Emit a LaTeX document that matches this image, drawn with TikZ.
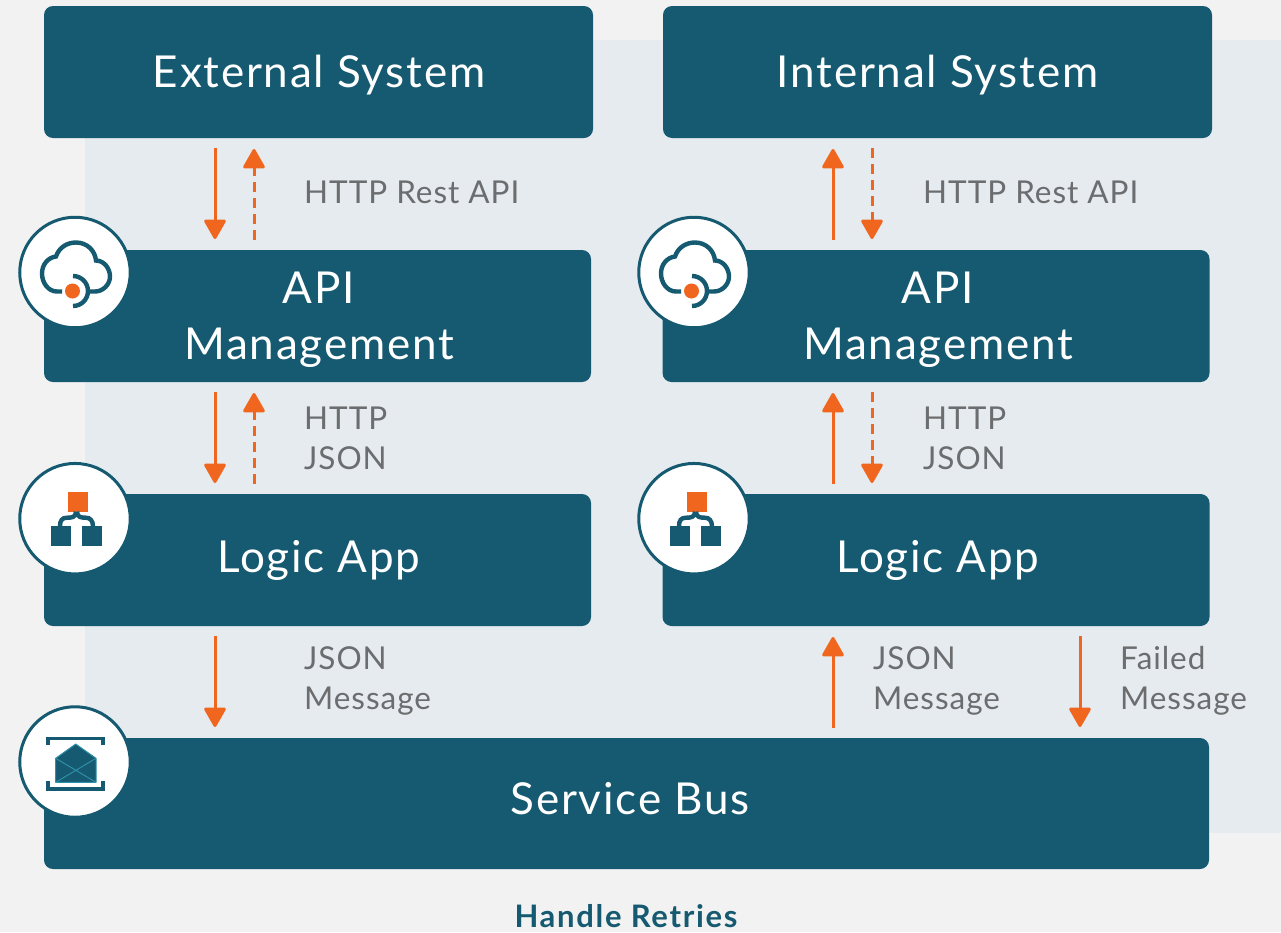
\documentclass[tikz,border=0pt]{standalone}
\usepackage{fontspec}
\setmainfont{Lato}
\usetikzlibrary{arrows.meta,calc}
\definecolor{teal}{HTML}{155A70}
\definecolor{flow}{HTML}{F0661E}
\definecolor{pagebg}{HTML}{F2F2F2}
\definecolor{panel}{HTML}{E5EBEF}
\definecolor{lab}{HTML}{6B6D6F}
\definecolor{envline}{HTML}{2E8FA8}
\tikzset{
 box/.style={fill=teal,rounded corners=9pt,inner sep=0pt,outer sep=0pt},
 boxtext/.style={text=white,inner sep=0pt,anchor=base,align=center,font=\fontsize{44}{56}\selectfont\addfontfeatures{LetterSpace=4}},
 badge/.style={circle,fill=white,draw=teal,line width=3pt,minimum size=110.5pt,inner sep=0pt},
 flowsolid/.style={draw=flow,line width=3pt,-{Triangle[length=21pt,width=23pt,round]},shorten <=10pt,shorten >=11pt},
 flowdash/.style={flowsolid,dash pattern=on 10pt off 6pt},
 lbl/.style={text=lab,font=\fontsize{31.5}{40}\selectfont\addfontfeatures{LetterSpace=3},align=left,anchor=base west,inner sep=0pt},
}
\begin{document}
\begin{tikzpicture}[x=1pt,y=-1pt]
\useasboundingbox (0,0) rectangle (1281,932);
\fill[pagebg] (0,0) rectangle (1281,932);
\fill[panel] (85,40) rectangle (1281,833);
% boxes
\node[box,minimum width=549pt,minimum height=132pt] (ext) at (318.5,72) {};
\node[box,minimum width=549pt,minimum height=132pt] (int) at (937.5,72) {};
\node[box,minimum width=547pt,minimum height=132pt] (apil) at (317.5,316) {};
\node[box,minimum width=547pt,minimum height=132pt] (apir) at (936,316) {};
\node[box,minimum width=547pt,minimum height=132pt] (logl) at (317.5,560) {};
\node[box,minimum width=547pt,minimum height=132pt] (logr) at (936,560) {};
\node[box,minimum width=1165pt,minimum height=131pt] (bus) at (626.5,803.5) {};
\node[boxtext] (extt) at (319,87) {External System};
\node[boxtext] (intt) at (937.5,87) {Internal System};
\node[boxtext] (apilt) at (319,359) {API\\Management};
\node[boxtext] (apirt) at (938,359) {API\\Management};
\node[boxtext] (loglt) at (319,572) {Logic App};
\node[boxtext] (logrt) at (938,572) {Logic App};
\node[boxtext] (bust) at (630,814) {Service Bus};
% connector columns
\coordinate (ca) at (215,0);
\coordinate (cb) at (254,0);
\coordinate (cc) at (833,0);
\coordinate (cd) at (872,0);
\coordinate (ce) at (1080,0);
\draw[flowsolid] (ext.south -| ca) -- (apil.north -| ca);
\draw[flowdash] (apil.north -| cb) -- (ext.south -| cb);
\draw[flowsolid] (apil.south -| ca) -- (logl.north -| ca);
\draw[flowdash] (logl.north -| cb) -- (apil.south -| cb);
\draw[flowsolid] (logl.south -| ca) -- (bus.north -| ca);
\draw[flowsolid] (apir.north -| cc) -- (int.south -| cc);
\draw[flowdash] (int.south -| cd) -- (apir.north -| cd);
\draw[flowsolid] (logr.north -| cc) -- (apir.south -| cc);
\draw[flowdash] (apir.south -| cd) -- (logr.north -| cd);
\draw[flowsolid] (bus.north -| cc) -- (logr.south -| cc);
\draw[flowsolid] (logr.south -| ce) -- (bus.north -| ce);
% labels
\node[lbl] (l1) at (304,203) {HTTP Rest API};
\node[lbl] (l2) at (923,203) {HTTP Rest API};
\node[lbl] (l3) at (304,469) {HTTP\\JSON};
\node[lbl] (l4) at (923,469) {HTTP\\JSON};
\node[lbl] (l5) at (304,709) {JSON\\Message};
\node[lbl] (l6) at (873,709) {JSON\\Message};
\node[lbl] (l7) at (1120,709) {Failed\\Message};
\node[text=teal,font=\bfseries\fontsize{31}{36}\selectfont\addfontfeatures{LetterSpace=5.5},inner sep=0pt,anchor=base] (title) at (626,927.5) {Handle Retries};
% cloud badges
\foreach \nm/\cx in {ca1/75,ca2/694}{
 \node[badge] (\nm) at (\cx,272.5) {};
 \begin{scope}[shift={(\cx,272.5)}]
  \draw[teal,line width=4.4pt]
    (-13,19) -- (-18,19) .. controls (-27,19) and (-33,10) .. (-33,1)
    .. controls (-33,-8) and (-27,-15) .. (-19,-16)
    .. controls (-16,-25) and (-8,-30) .. (1,-30)
    .. controls (12,-30) and (20,-22) .. (21,-12)
    .. controls (29,-12) and (35,-4) .. (35,4)
    .. controls (35,12) and (28,19) .. (20,19) -- (12,19);
  \draw[teal,line width=4.4pt] (-2,3.5) arc[start angle=-90,end angle=90,radius=15];
  \fill[flow] (-2.5,18.5) circle (7.5);
 \end{scope}
}
% logic badges
\foreach \nm/\cx in {cb1/75,cb2/694}{
 \node[badge] (\nm) at (\cx,518.7) {};
 \begin{scope}[shift={(\cx,518.7)}]
  \fill[flow] (-7.3,-27) rectangle (12.7,-7);
  \fill[teal] (-24.3,7.3) rectangle (-4.3,27.3);
  \fill[teal] (7.3,7.3) rectangle (27.3,27.3);
  \draw[teal,line width=4.4pt] (1,-7) .. controls (1,-1) and (-4,-1) .. (-8,-1) .. controls (-13,-1) and (-15,2) .. (-15,7.5);
  \draw[teal,line width=4.4pt] (2,-7) .. controls (2,-1) and (7,-1) .. (11,-1) .. controls (15,-1) and (18,2) .. (18,7.5);
 \end{scope}
}
% service bus badge
\node[badge] (cc1) at (75,762) {};
\begin{scope}[shift={(75,762)}]
 \draw[teal,line width=3.5pt] (-27,-17) -- (-27,-23.5) -- (28,-23.5) -- (28,-17);
 \draw[teal,line width=3.5pt] (-27,19) -- (-27,27) -- (28,27) -- (28,19);
 \fill[teal,draw=envline,line width=1pt,line join=round] (-19.3,-3.7) -- (0.7,-18) -- (21,-3.7) -- (21,20.3) -- (-19.3,20.3) -- cycle;
 \draw[envline,line width=1pt] (-19.3,-3.7) -- (21,20.3) (21,-3.7) -- (-19.3,20.3);
\end{scope}
\end{tikzpicture}
\end{document}
